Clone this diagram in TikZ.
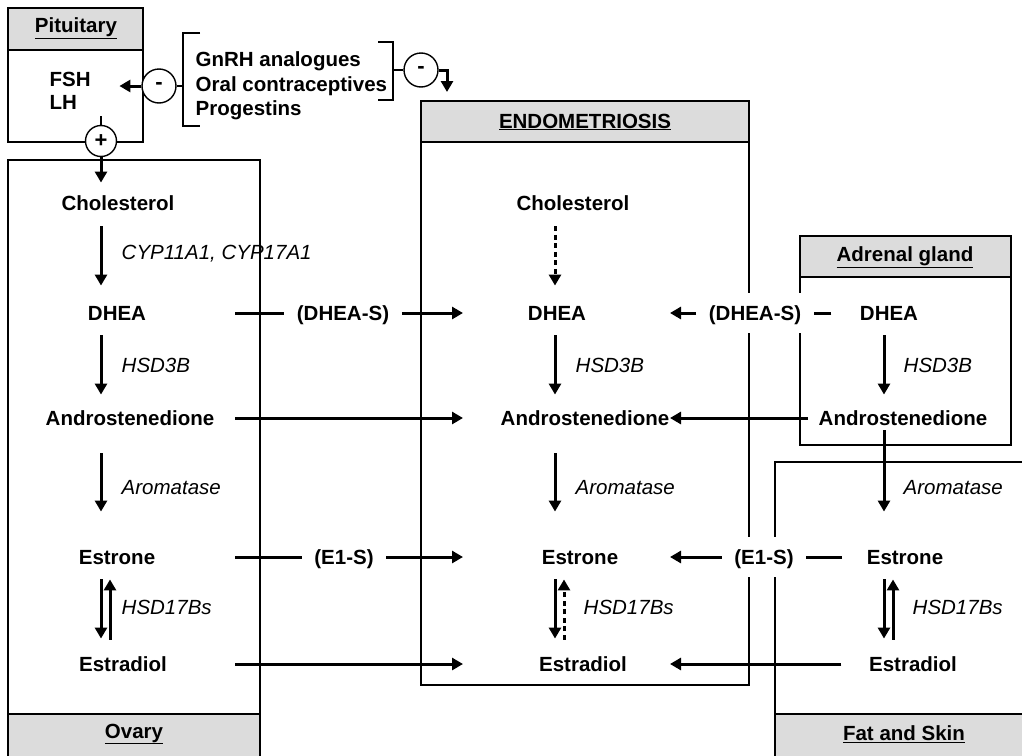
\documentclass[tikz,border=0pt]{standalone}
\usepackage{fontspec}
\setmainfont{Liberation Sans}
\usetikzlibrary{arrows.meta}
\definecolor{hgrey}{HTML}{DCDCDC}
\tikzset{
  every picture/.style={line width=1.4pt},
  mol/.style={font=\fontsize{20.5}{24.5}\selectfont\bfseries, inner sep=3pt, text height=16pt, text depth=1.5pt},
  enz/.style={font=\fontsize{20.5}{24.5}\selectfont\itshape, anchor=west, inner sep=0pt},
  head/.style={font=\fontsize{20.5}{24.5}\selectfont\bfseries, inner sep=0pt},
  tag/.style={mol, fill=white, inner xsep=12pt, inner ysep=11pt},
  sign/.style={circle, draw, fill=white, line width=1.4pt, minimum size=34pt, inner sep=0pt, font=\fontsize{22}{24.5}\selectfont\bfseries},
  arrow/.style={-{Triangle[length=11pt, width=12pt]}, line width=3pt},
  link/.style={line width=3pt},
}

\begin{document}
\begin{tikzpicture}[x=1pt, y=-1pt]
  \useasboundingbox (0,0) rectangle (1022,755);
  \clip (0,0) rectangle (1022,755);
  \draw[fill=hgrey] (8,8) rectangle (143,50);
  \draw (8,50) rectangle (143,142);
  \draw (8,160) rectangle (260,714);
  \draw[fill=hgrey] (8,714) rectangle (260,770);
  \draw[fill=hgrey] (421,101) rectangle (749,142);
  \draw (421,142) rectangle (749,685);
  \draw[fill=hgrey] (800,236) rectangle (1011,277);
  \draw (800,277) rectangle (1011,445);
  \draw (775,462) rectangle (1040,714);
  \draw[fill=hgrey] (775,714) rectangle (1040,770);
  \node[head] (pit) at (76,28) {\underline{Pituitary}};
  \node[head] (endo) at (585,122) {\underline{ENDOMETRIOSIS}};
  \node[head] (adr) at (905,257) {\underline{Adrenal gland}};
  \node[head] (ova) at (134,734) {\underline{Ovary}};
  \node[head] (fat) at (904,734) {\underline{Fat and Skin}};

  \node[head, align=left, anchor=west, font=\fontsize{20.5}{23}\selectfont\bfseries] (gonad) at (49,91) {FSH\\LH};
  \node[head, align=left, anchor=west, font=\fontsize{20.5}{24.5}\selectfont\bfseries] (drugs) at (195,86) {GnRH analogues\\Oral contraceptives\\Progestins};
  \draw (200,33) -- (183,33) -- (183,126) -- (200,126);
  \draw (378,42) -- (393,42) -- (393,100) -- (378,100);
  \coordinate (lbrk) at (183,86);
  \coordinate (rbrk) at (393,70);
  \coordinate (endotop) at (447,92);
  \node[sign] (inh1) at (159,86) {-};
  \node[sign] (inh2) at (421,70) {-};
  \node[sign, minimum size=31pt] (act) at (101,141) {+};
  \draw (lbrk) -- (inh1);
  \draw[arrow, shorten >=28pt] (inh1) -- (inh1 -| gonad.east);
  \draw (rbrk) -- (inh2);
  \draw[arrow] (inh2) -| (endotop);
  \draw[line width=2pt, shorten <=6pt] (gonad.south -| act) -- (act);

  \coordinate (lx) at (101,0);
  \coordinate (mx) at (555,0);
  \coordinate (rx) at (884,0);
  \coordinate (lout) at (235,0);
  \coordinate (lin) at (463,0);
  \coordinate (rin) at (670,0);

  \node[mol] (lchol) at (118,203) {Cholesterol};
  \node[mol] (ldhea) at (117,313) {DHEA};
  \node[mol] (landro) at (130,418) {Androstenedione};
  \node[mol] (lestrone) at (117,557) {Estrone};
  \node[mol] (lestradiol) at (123,664) {Estradiol};
  \node[mol] (mchol) at (573,203) {Cholesterol};
  \node[mol] (mdhea) at (557,313) {DHEA};
  \node[mol] (mandro) at (585,418) {Androstenedione};
  \node[mol] (mestrone) at (580,557) {Estrone};
  \node[mol] (mestradiol) at (583,664) {Estradiol};
  \node[mol] (rdhea) at (889,313) {DHEA};
  \node[mol] (randro) at (903,418) {Androstenedione};
  \node[mol] (restrone) at (905,557) {Estrone};
  \node[mol] (restradiol) at (913,664) {Estradiol};

  \node[enz] (lcyp) at (121,254) {CYP11A1, CYP17A1};
  \node[enz] (lhsd3) at (121,365) {HSD3B};
  \node[enz] (laro) at (121,488) {Aromatase};
  \node[enz] (lhsd17) at (121,607) {HSD17Bs};
  \node[enz] (mhsd3) at (575,365) {HSD3B};
  \node[enz] (maro) at (575,488) {Aromatase};
  \node[enz] (mhsd17) at (583,607) {HSD17Bs};
  \node[enz] (rhsd3) at (903,365) {HSD3B};
  \node[enz] (raro) at (903,488) {Aromatase};
  \node[enz] (rhsd17) at (912,607) {HSD17Bs};

  \draw[arrow, shorten >=8pt] (act) -- (lchol.north -| act);
  \draw[arrow, shorten <=11pt, shorten >=15pt] (lchol.south -| lx) -- (ldhea.north -| lx);
  \draw[arrow, shorten <=10pt, shorten >=11pt] (ldhea.south -| lx) -- (landro.north -| lx);
  \draw[arrow, shorten <=23pt, shorten >=33pt] (landro.south -| lx) -- (lestrone.north -| lx);
  \draw[arrow, shorten <=10pt, shorten >=13pt] (lestrone.south -| lx) -- (lestradiol.north -| lx);
  \draw[arrow, shorten <=12pt, shorten >=10pt] ([xshift=9pt]lestradiol.north -| lx) -- ([xshift=9pt]lestrone.south -| lx);

  \draw[arrow, dash pattern=on 5pt off 3.5pt, shorten <=11pt, shorten >=15pt] (mchol.south -| mx) -- (mdhea.north -| mx);
  \draw[arrow, shorten <=10pt, shorten >=11pt] (mdhea.south -| mx) -- (mandro.north -| mx);
  \draw[arrow, shorten <=23pt, shorten >=33pt] (mandro.south -| mx) -- (mestrone.north -| mx);
  \draw[arrow, shorten <=10pt, shorten >=13pt] (mestrone.south -| mx) -- (mestradiol.north -| mx);
  \draw[arrow, dash pattern=on 5pt off 3.5pt, shorten <=12pt, shorten >=10pt] ([xshift=9pt]mestradiol.north -| mx) -- ([xshift=9pt]mestrone.south -| mx);

  \draw[arrow, shorten <=10pt, shorten >=11pt] (rdhea.south -| rx) -- (randro.north -| rx);
  \draw[arrow, shorten >=33pt] (randro.south -| rx) -- (restrone.north -| rx);
  \draw[arrow, shorten <=10pt, shorten >=13pt] (restrone.south -| rx) -- (restradiol.north -| rx);
  \draw[arrow, shorten <=12pt, shorten >=10pt] ([xshift=9pt]restradiol.north -| rx) -- ([xshift=9pt]restrone.south -| rx);

  \node[tag] (ldhs) at (343,313) {(DHEA-S)};
  \node[tag] (les) at (344,557) {(E1-S)};
  \node[tag] (rdhs) at (755,313) {(DHEA-S)};
  \node[tag] (res) at (764,557) {(E1-S)};

  \draw[link] (ldhea -| lout) -- (ldhs);
  \draw[arrow] (ldhs) -- (mdhea -| lin);
  \draw[arrow] (landro -| lout) -- (mandro -| lin);
  \draw[link] (lestrone -| lout) -- (les);
  \draw[arrow] (les) -- (mestrone -| lin);
  \draw[arrow] (lestradiol -| lout) -- (mestradiol -| lin);

  \draw[link, shorten <=25pt] (rdhea.west) -- (rdhs);
  \draw[arrow] (rdhs) -- (mdhea -| rin);
  \draw[arrow, shorten <=7pt] (randro.west) -- (mandro -| rin);
  \draw[link, shorten <=21pt] (restrone.west) -- (res);
  \draw[arrow] (res) -- (mestrone -| rin);
  \draw[arrow, shorten <=24pt] (restradiol.west) -- (mestradiol -| rin);
\end{tikzpicture}
\end{document}
